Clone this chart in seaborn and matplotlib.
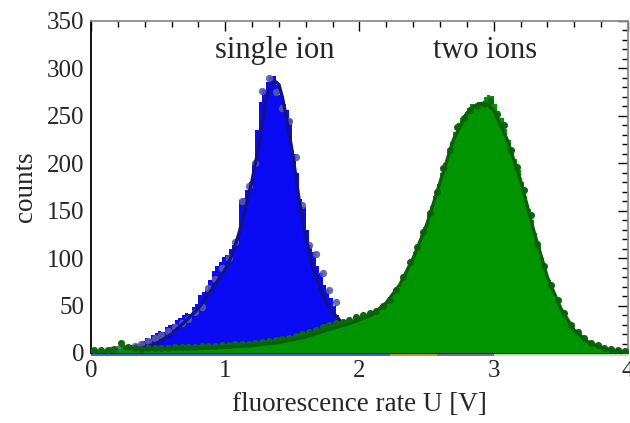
import numpy as np
import pandas as pd
import matplotlib
matplotlib.use("Agg")
import matplotlib.pyplot as plt
from matplotlib.ticker import MultipleLocator
import seaborn as sns

# ---- histogram data (bin width 0.025 V) ----
bin_width = 0.025
blue_counts = [
    0, 0, 0, 0, 2, 3, 2, 4, 4, 6,
    5, 7, 8, 10, 9, 13, 16, 15, 19, 21,
    23, 22, 27, 30, 31, 35, 37, 40, 42, 41,
    48, 52, 61, 64, 66, 77, 86, 92, 96, 101,
    103, 110, 114, 120, 161, 163, 172, 180, 200, 235,
    265, 277, 286, 291, 292, 282, 272, 262, 256, 247,
    210, 190, 162, 154, 130, 114, 106, 92, 84, 72,
    66, 58, 50, 40, 32, 26, 19, 13, 9, 6,
]
green_counts = [
    3, 3, 2, 3, 3, 2, 3, 3, 4, 8,
    4, 5, 4, 4, 5, 4, 4, 5, 4, 5,
    4, 5, 5, 4, 5, 5, 6, 5, 5, 6,
    5, 6, 6, 5, 6, 7, 6, 6, 7, 7,
    7, 8, 7, 8, 8, 9, 8, 9, 10, 10,
    10, 11, 11, 12, 13, 12, 13, 14, 14, 15,
    16, 17, 17, 18, 20, 21, 22, 23, 24, 26,
    27, 28, 29, 31, 31, 33, 34, 35, 37, 38,
    39, 40, 41, 43, 44, 46, 49, 52, 55, 59,
    63, 68, 75, 82, 90, 98, 106, 115, 124, 133,
    145, 155, 166, 178, 190, 200, 212, 222, 233, 242,
    248, 252, 258, 262, 261, 265, 264, 270, 272, 271,
    262, 255, 248, 236, 225, 213, 205, 193, 180, 166,
    152, 140, 127, 113, 100, 88, 77, 67, 58, 51,
    44, 38, 32, 27, 23, 19, 16, 13, 11, 9,
    7, 6, 5, 4, 3, 3, 2, 2, 2, 1,
]

# ---- measured points ----
blue_pts_x = [0.15, 0.2, 0.25, 0.325, 0.375, 0.425, 0.475, 0.525, 0.575, 0.625,
              0.675, 0.725, 0.775, 0.825, 0.875, 0.925, 0.975, 1.025, 1.075, 1.125,
              1.175, 1.225, 1.275, 1.325, 1.375, 1.425, 1.475, 1.525, 1.575, 1.625,
              1.675, 1.725, 1.775, 1.825]
blue_pts_y = [3, 4, 5, 7, 10, 13, 16, 19, 23, 27,
              32, 36, 43, 48, 68, 78, 90, 100, 117, 160,
              176, 200, 276, 290, 275, 258, 245, 207, 156, 114,
              104, 84, 66, 54]

green_pts_x = [0.025, 0.075, 0.125, 0.175, 0.225, 0.275, 0.325, 0.375, 0.425, 0.475,
               0.525, 0.575, 0.625, 0.675, 0.725, 0.775, 0.825, 0.875, 0.925, 0.975,
               1.025, 1.075, 1.125, 1.175, 1.225, 1.275, 1.325, 1.375, 1.425, 1.475,
               1.525, 1.575, 1.625, 1.675, 1.725, 1.775, 1.825, 1.875, 1.925, 1.975,
               2.025, 2.075, 2.125, 2.175, 2.225, 2.275, 2.325, 2.375, 2.425, 2.475,
               2.525, 2.575, 2.625, 2.675, 2.725, 2.775, 2.825, 2.875, 2.925, 2.975,
               3.025, 3.075, 3.125, 3.175, 3.225, 3.275, 3.325, 3.375, 3.425, 3.475,
               3.525, 3.575, 3.625, 3.675, 3.725, 3.775, 3.825, 3.875, 3.925, 3.975]
green_pts_y = [3, 3, 3, 4, 11, 6, 5, 4, 5, 5,
               5, 5, 6, 6, 6, 6, 7, 7, 7, 8,
               8, 9, 9, 10, 11, 12, 13, 14, 15, 16,
               18, 20, 22, 24, 27, 29, 32, 33, 35, 38,
               40, 42, 44, 50, 56, 66, 80, 96, 112, 128,
               148, 170, 195, 214, 238, 248, 256, 260, 262, 266,
               252, 240, 214, 196, 172, 145, 115, 92, 72, 56,
               42, 30, 22, 16, 11, 8, 5, 4, 3, 2]

# ---- fitted distributions ----
blue_fit_x = [0.25, 0.3, 0.4, 0.5, 0.6, 0.7, 0.8, 0.9, 1.0, 1.05,
              1.1, 1.15, 1.2, 1.25, 1.3, 1.325, 1.35, 1.375, 1.4, 1.425,
              1.45, 1.5, 1.55, 1.6, 1.65, 1.7, 1.75, 1.8, 1.85, 1.9]
blue_fit_y = [2.5, 3.5, 6, 11, 20, 33, 47, 67, 88, 103,
              125, 152, 182, 218, 264, 277, 284, 286, 283, 270,
              252, 212, 162, 122, 92, 71, 54, 43, 35, 27]

green_fit_x = [0.25, 0.4, 0.6, 0.8, 1.0, 1.2, 1.4, 1.6, 1.8, 1.9,
               2.0, 2.1, 2.2, 2.3, 2.4, 2.5, 2.6, 2.7, 2.8, 2.85,
               2.9, 2.95, 3.0, 3.1, 3.2, 3.3, 3.4, 3.5, 3.6, 3.7,
               3.8, 3.9, 4.0]
green_fit_y = [5, 4, 4.5, 5, 6, 8, 11, 17, 26, 30,
               35, 41, 53, 72, 100, 135, 180, 225, 253, 260,
               263, 262, 256, 225, 182, 128, 80, 47, 24, 12,
               5.5, 2.5, 1]

# zero-level strips of further data sets along the axis
strip_edges = [0.0, 2.23, 2.58, 3.0, 4.0]
strip_colors = ["#3a5fd0", "#d08a3a", "#8a5aa8", "#b8e0b0"]

label_single = "single ion"
label_two = "two ions"

# ---- figure ----
sns.set_theme(style="white")
plt.rcParams["font.family"] = ["Liberation Serif", "DejaVu Serif"]

fig = plt.figure(figsize=(6.3, 4.23), dpi=100)
ax = fig.add_axes([0.1444, 0.1655, 0.8524, 0.785])

blue_df = pd.DataFrame({"U": (np.arange(len(blue_counts)) + 0.5) * bin_width,
                        "n": blue_counts})
green_df = pd.DataFrame({"U": (np.arange(len(green_counts)) + 0.5) * bin_width,
                         "n": green_counts})

BLUE = "#0a0af5"
GREEN = "#009400"

sns.histplot(data=blue_df, x="U", weights="n", binwidth=bin_width,
             binrange=(0, len(blue_counts) * bin_width), element="step",
             fill=True, color=BLUE, alpha=1, linewidth=0, ax=ax, zorder=1)
sns.scatterplot(x=blue_pts_x, y=blue_pts_y, color="#5a5aa6", alpha=0.9, s=28,
                linewidth=0, ax=ax, zorder=2)
sns.lineplot(x=blue_fit_x, y=blue_fit_y, color="#12128a", linewidth=2.4, ax=ax,
             zorder=3)

sns.histplot(data=green_df, x="U", weights="n", binwidth=bin_width,
             binrange=(0, len(green_counts) * bin_width), element="step",
             fill=True, color=GREEN, alpha=1, linewidth=0, ax=ax, zorder=4)
sns.scatterplot(x=green_pts_x, y=green_pts_y, color="#0a6a0a", s=26,
                linewidth=0, ax=ax, zorder=5)
sns.lineplot(x=green_fit_x, y=green_fit_y, color="#0b5e0b", linewidth=2.4, ax=ax,
             zorder=6)

for x0, x1, c in zip(strip_edges[:-1], strip_edges[1:], strip_colors):
    ax.hlines(-2.6, x0, x1, colors=c, linewidth=1.4, clip_on=False, zorder=7)

ax.set_xlim(0, 4)
ax.set_ylim(0, 350)
ax.xaxis.set_major_locator(MultipleLocator(1))
ax.xaxis.set_minor_locator(MultipleLocator(0.2))
ax.yaxis.set_major_locator(MultipleLocator(50))
ax.yaxis.set_minor_locator(MultipleLocator(10))
ax.tick_params(which="both", direction="in", top=True, right=True,
               color="black", width=1.0, labelsize=18, pad=5)
ax.tick_params(which="major", length=7)
ax.tick_params(which="minor", length=4)

for side in ["left", "bottom"]:
    ax.spines[side].set_color("black")
    ax.spines[side].set_linewidth(1.3)
for side in ["top", "right"]:
    ax.spines[side].set_color("#8c8c8c")
    ax.spines[side].set_linewidth(1.3)

ax.set_xlabel("fluorescence rate U [V]", fontsize=19.5, labelpad=7)
ax.set_ylabel("counts", fontsize=19.5, labelpad=6)

ax.text(1.37, 319, label_single, fontsize=22, ha="center", va="center")
ax.text(2.935, 319, label_two, fontsize=22, ha="center", va="center")

fig.savefig("out.png", dpi=100)
